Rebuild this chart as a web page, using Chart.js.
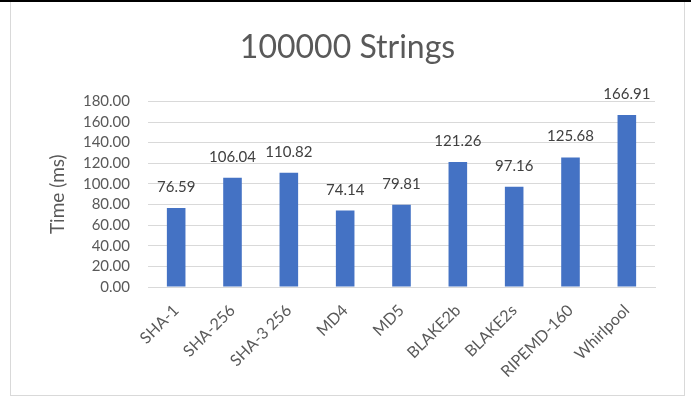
<!DOCTYPE html>
<html>
<head>
<meta charset="utf-8">
<script src="https://cdn.jsdelivr.net/npm/chart.js@4.4.1/dist/chart.umd.min.js"></script>
<style>
  html, body { margin: 0; padding: 0; background: #fff; }
  #wrap { position: relative; width: 691px; height: 400px; }
  #topline { position: absolute; left: 0; top: 0; width: 691px; height: 2px; background: #000; }
  #frame { position: absolute; left: 10px; top: 2px; width: 673px; height: 393px; border: 1px solid #d9d9d9; border-top: none; }
  canvas { position: absolute; left: 0; top: 0; }
</style>
</head>
<body>
<div id="wrap">
  <div id="topline"></div>
  <div id="frame"></div>
  <canvas id="chart" width="691" height="400"></canvas>
</div>
<script>
// ── Data ──────────────────────────────────────
const CATEGORIES = ['SHA-1', 'SHA-256', 'SHA-3 256', 'MD4', 'MD5', 'BLAKE2b', 'BLAKE2s', 'RIPEMD-160', 'Whirlpool'];
const TIMES_MS   = [76.59, 106.04, 110.82, 74.14, 79.81, 121.26, 97.16, 125.68, 166.91];
const Y_TICKS    = [0, 20, 40, 60, 80, 100, 120, 140, 160, 180];

const FONT = 'Lato, "Open Sans", sans-serif';
const GREY = '#595959';

// data labels above each bar
const barLabels = {
  id: 'barLabels',
  afterDatasetsDraw(chart) {
    const ctx  = chart.ctx;
    const meta = chart.getDatasetMeta(0);
    ctx.save();
    ctx.font = '15px ' + FONT;
    ctx.fillStyle = '#404040';
    ctx.textAlign = 'center';
    ctx.textBaseline = 'alphabetic';
    meta.data.forEach((bar, i) => {
      ctx.fillText(TIMES_MS[i].toFixed(2), bar.x, bar.y - 16);
    });
    ctx.restore();
  },
};

new Chart(document.getElementById('chart'), {
  type: 'bar',
  data: {
    labels: CATEGORIES,
    datasets: [{
      data: TIMES_MS,
      backgroundColor: '#4472C4',
      barPercentage: 0.33,
      categoryPercentage: 1,
    }],
  },
  options: {
    responsive: false,
    animation: false,
    layout: { padding: { left: 40, right: 36, top: 0, bottom: 23 } },
    plugins: {
      legend: { display: false },
      tooltip: { enabled: false },
      title: {
        display: true,
        text: '100000 Strings',
        color: GREY,
        font: { family: FONT, size: 32, weight: 'normal' },
        padding: { top: 28, bottom: 35 },
      },
    },
    scales: {
      x: {
        grid: { display: false, drawTicks: false },
        border: { color: '#d9d9d9' },
        ticks: { color: GREY, font: { family: FONT, size: 16 }, minRotation: 45, maxRotation: 45, padding: 14, autoSkip: false },
        afterFit: s => { s.height = 90; },
      },
      y: {
        min: 0,
        max: 180,
        afterBuildTicks: s => { s.ticks = Y_TICKS.map(v => ({ value: v })); },
        grid: { color: '#d9d9d9', drawTicks: false },
        border: { display: false },
        ticks: { color: GREY, font: { family: FONT, size: 15 }, padding: 18, autoSkip: false, callback: v => v.toFixed(2) },
        title: { display: true, text: 'Time (ms)', color: GREY, font: { family: FONT, size: 19 }, padding: { top: 6 } },
        afterFit: s => { s.width = 108; },
      },
    },
  },
  plugins: [barLabels],
});
</script>
</body>
</html>
